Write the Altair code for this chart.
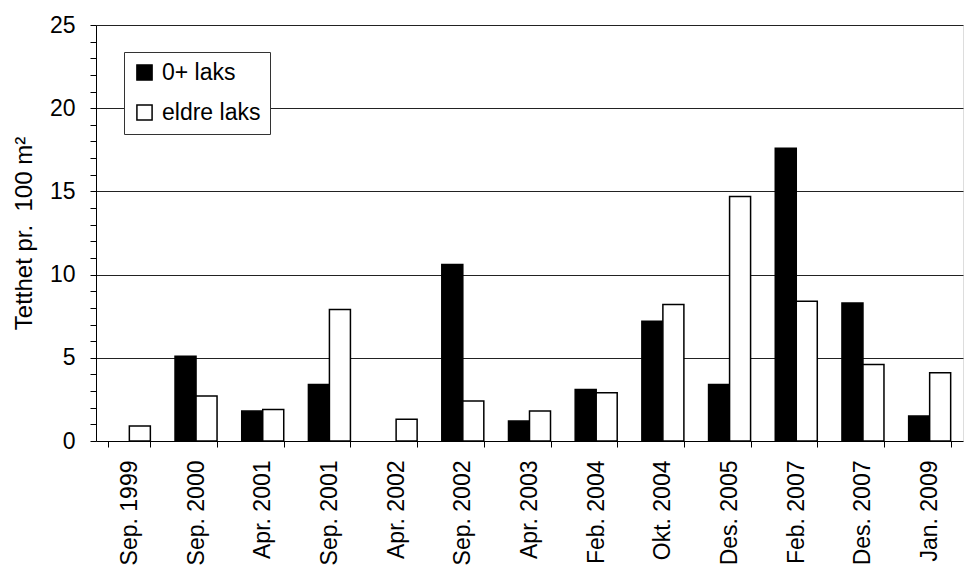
import altair as alt
import pandas as pd

# Sampling dates and fish densities (individuals per 100 m2)
dates = ["Sep. 1999", "Sep. 2000", "Apr. 2001", "Sep. 2001", "Apr. 2002",
         "Sep. 2002", "Apr. 2003", "Feb. 2004", "Okt. 2004", "Des. 2005",
         "Feb. 2007", "Des. 2007", "Jan. 2009"]
fry = [None, 5.1, 1.8, 3.4, None, 10.6, 1.2, 3.1, 7.2, 3.4, 17.6, 8.3, 1.5]
older = [0.9, 2.7, 1.9, 7.9, 1.3, 2.4, 1.8, 2.9, 8.2, 14.7, 8.4, 4.6, 4.1]
groups = ["0+ laks", "eldre laks"]

rows = []
for d, a, b in zip(dates, fry, older):
    rows.append({"dato": d, "gruppe": groups[0], "tetthet": a})
    rows.append({"dato": d, "gruppe": groups[1], "tetthet": b})
df = pd.DataFrame(rows)

FONT = "Liberation Sans"

chart = alt.Chart(df).mark_bar(stroke="black", strokeWidth=1.5).encode(
    x=alt.X(
        "dato:N",
        sort=dates,
        scale=alt.Scale(paddingInner=0.37, paddingOuter=0.185),
        axis=alt.Axis(
            title=None,
            labelAngle=270,
            labelAlign="right",
            labelBaseline="middle",
            labelFontSize=23,
            labelFont=FONT,
            labelColor="black",
            labelPadding=13,
            tickBand="extent",
            tickSize=6,
            tickColor="black",
            domainColor="black",
            grid=False,
        ),
    ),
    xOffset=alt.XOffset("gruppe:N", sort=groups, scale=alt.Scale(paddingInner=0)),
    y=alt.Y(
        "tetthet:Q",
        scale=alt.Scale(domain=[0, 25], nice=False),
        axis=alt.Axis(
            title="Tetthet pr.\u00a0 100 m²",
            titleFont=FONT,
            titleFontSize=24,
            titleFontWeight="normal",
            titleColor="black",
            titleAngle=270,
            titleAlign="center",
            titleBaseline="middle",
            titleX=-72,
            titleY=208,
            values=list(range(0, 26)),
            labelExpr="datum.value % 5 === 0 ? datum.label : ''",
            labelFontSize=23,
            labelFont=FONT,
            labelColor="black",
            labelPadding=15,
            tickSize=6,
            tickColor="black",
            domainColor="black",
            grid=True,
            gridColor="#222",
            gridWidth=1,
            gridOpacity={"condition": {"test": "datum.value % 5 === 0 && datum.value > 0", "value": 1}, "value": 0},
        ),
    ),
    color=alt.Color(
        "gruppe:N",
        sort=groups,
        scale=alt.Scale(domain=groups, range=["black", "white"]),
        legend=alt.Legend(
            title=None,
            orient="none",
            legendX=28,
            legendY=27,
            symbolType="square",
            symbolSize=230,
            symbolStrokeColor="black",
            symbolStrokeWidth=1.5,
            labelFont=FONT,
            labelFontSize=23,
            labelColor="black",
            labelOffset=6,
            rowPadding=16,
            padding=9,
            fillColor="white",
            strokeColor="#333",
        ),
    ),
).properties(
    width=867,
    height=416,
    autosize=alt.AutoSizeParams(type="none"),
    padding={"left": 96, "top": 25, "right": 4, "bottom": 128},
).configure_view(
    stroke=None
).configure(
    background="white"
)

chart.save("out.html", embed_options={"renderer": "svg", "actions": False})
